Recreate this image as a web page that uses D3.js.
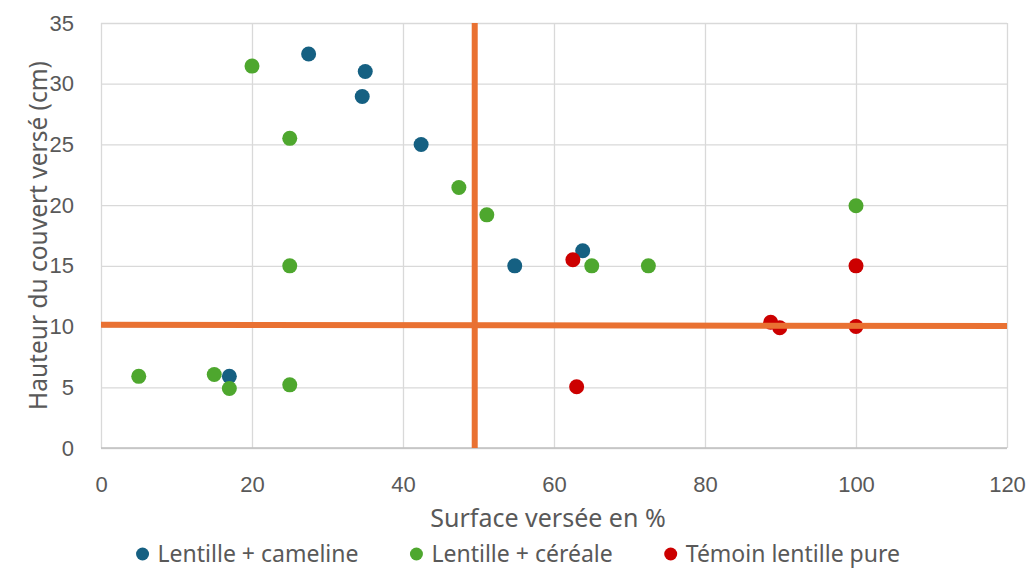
<!DOCTYPE html>
<html>
<head>
<meta charset="utf-8">
<script src="https://cdn.jsdelivr.net/npm/d3@7"></script>
<style>
  body { margin: 0; background: #fff; }
</style>
</head>
<body>
<script>
// series: Lentille + cameline
let camelineX = [27.5, 35, 34.6, 42.4, 54.8, 63.8, 17];
let camelineY = [32.45, 31, 28.95, 25, 15, 16.25, 5.9];
// series: Lentille + céréale
let cerealeX = [20, 25, 25, 47.4, 51.1, 65, 72.5, 100, 5, 15, 17, 25];
let cerealeY = [31.45, 25.5, 15, 21.45, 19.2, 15, 15, 19.95, 5.9, 6.05, 4.9, 5.2];
// series: Témoin lentille pure
let temoinX = [62.5, 100, 63, 88.7, 89.9, 100];
let temoinY = [15.5, 15, 5.05, 10.35, 9.9, 10];

let seriesNames = ["Lentille + cameline", "Lentille + céréale", "Témoin lentille pure"];
let seriesColors = ["#156082", "#4ea72e", "#cc0000"];

let xTicks = [0, 20, 40, 60, 80, 100, 120];
let yTicks = [0, 5, 10, 15, 20, 25, 30, 35];

// orange threshold lines drawn over the chart
let vLineX = 49.5;
let hLineY = [10.15, 10.05]; // left end, right end

let width = 1029;
let height = 569;
let margin = { top: 23, right: 22, bottom: 121, left: 101 };

let svg = d3.select("body")
    .append("svg")
    .attr("width", width)
    .attr("height", height);

let x = d3.scaleLinear().domain([0, 120]).range([margin.left, width - margin.right]);
let y = d3.scaleLinear().domain([0, 35]).range([height - margin.bottom, margin.top]);

let tickFont = "'Liberation Sans', Arial, sans-serif";
let labelFont = "'Noto Sans', 'Open Sans', sans-serif";
let textColor = "#595959";

// gridlines
svg.append("g")
    .attr("transform", `translate(0,${height - margin.bottom})`)
    .call(d3.axisBottom(x).tickValues(xTicks).tickSize(-(height - margin.top - margin.bottom)).tickFormat(""))
    .call(g => g.select(".domain").remove())
    .call(g => g.selectAll("line").attr("stroke", "#d9d9d9").attr("stroke-width", 1.3));

svg.append("g")
    .attr("transform", `translate(${margin.left},0)`)
    .call(d3.axisLeft(y).tickValues(yTicks).tickSize(-(width - margin.left - margin.right)).tickFormat(""))
    .call(g => g.select(".domain").remove())
    .call(g => g.selectAll("line").attr("stroke", "#d9d9d9").attr("stroke-width", 1.3));

// bottom axis line
svg.append("line")
    .attr("x1", x(0)).attr("x2", x(120))
    .attr("y1", y(0)).attr("y2", y(0))
    .attr("stroke", "#bfbfbf")
    .attr("stroke-width", 1.3);

// tick labels
svg.append("g")
    .attr("transform", `translate(0,${height - margin.bottom})`)
    .call(d3.axisBottom(x).tickValues(xTicks).tickSize(0).tickPadding(28))
    .call(g => g.select(".domain").remove())
    .call(g => g.selectAll("text")
        .attr("font-family", tickFont)
        .attr("font-size", 22)
        .attr("fill", textColor));

svg.append("g")
    .attr("transform", `translate(${margin.left},0)`)
    .call(d3.axisLeft(y).tickValues(yTicks).tickSize(0).tickPadding(27))
    .call(g => g.select(".domain").remove())
    .call(g => g.selectAll("text")
        .attr("font-family", tickFont)
        .attr("font-size", 22)
        .attr("fill", textColor));

// points
let series = [
    d3.zip(camelineX, camelineY),
    d3.zip(cerealeX, cerealeY),
    d3.zip(temoinX, temoinY)
];

series.forEach((pts, i) => {
    svg.append("g")
        .selectAll("circle")
        .data(pts)
        .enter().append("circle")
        .attr("cx", d => x(d[0]))
        .attr("cy", d => y(d[1]))
        .attr("r", 7.5)
        .attr("fill", seriesColors[i]);
});

// orange lines
svg.append("line")
    .attr("x1", x(vLineX)).attr("x2", x(vLineX))
    .attr("y1", y(35)).attr("y2", y(0))
    .attr("stroke", "#e97132")
    .attr("stroke-width", 6);

svg.append("line")
    .attr("x1", x(0)).attr("x2", x(120))
    .attr("y1", y(hLineY[0])).attr("y2", y(hLineY[1]))
    .attr("stroke", "#e97132")
    .attr("stroke-width", 6);

// axis titles
svg.append("text")
    .attr("x", 548)
    .attr("y", 527)
    .attr("text-anchor", "middle")
    .attr("font-family", labelFont)
    .attr("font-size", 25)
    .attr("fill", textColor)
    .text("Surface versée en %");

svg.append("text")
    .attr("transform", `translate(47,${(y(0) + y(35)) / 2}) rotate(-90)`)
    .attr("text-anchor", "middle")
    .attr("font-family", labelFont)
    .attr("font-size", 24.5)
    .attr("fill", textColor)
    .text("Hauteur du couvert versé (cm)");

// legend
let legend = svg.append("g");
let lx = 0;
seriesNames.forEach((name, i) => {
    let item = legend.append("g").attr("transform", `translate(${lx},0)`);
    item.append("circle")
        .attr("cx", 0)
        .attr("cy", -8)
        .attr("r", 6.5)
        .attr("fill", seriesColors[i]);
    let t = item.append("text")
        .attr("x", 15)
        .attr("y", 0)
        .attr("font-family", labelFont)
        .attr("font-size", 23)
        .attr("fill", textColor)
        .text(name);
    lx += 15 + t.node().getComputedTextLength() + 58;
});
let legendWidth = lx - 58 + 6.5;
legend.attr("transform", `translate(${518 - legendWidth / 2 + 6.5},562)`);
</script>
</body>
</html>
